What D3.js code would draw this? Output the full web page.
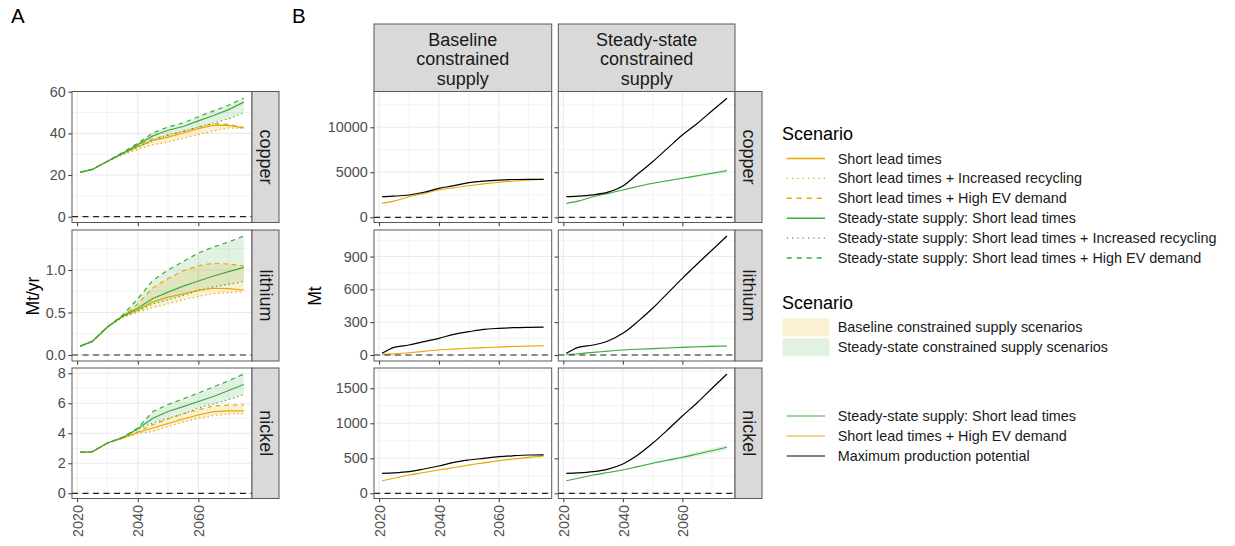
<!DOCTYPE html>
<html>
<head>
<meta charset="utf-8">
<script src="https://cdn.jsdelivr.net/npm/d3@7"></script>
<style>
  body { margin: 0; background: #fff; }
  svg { display: block; font-family: "Liberation Sans", Arial, Helvetica, sans-serif; }
</style>
</head>
<body>
<svg id="chart" width="1235" height="546"></svg>
<script>
// ---------------------------------------------------------------
// Data
// ---------------------------------------------------------------
const years = [2021, 2025, 2030, 2035, 2040, 2045, 2050, 2055, 2060, 2065, 2070, 2075];
const minerals = ["copper", "lithium", "nickel"];

// A: annual primary production (Mt/yr)
const copperShort           = [21.3, 22.7, 26.6, 30.3, 33.6, 36.6, 38.2, 40.2, 42.3, 44.0, 43.8, 42.6];
const copperRecycling       = [21.3, 22.7, 26.6, 29.8, 32.3, 34.5, 35.9, 37.6, 39.4, 41.2, 42.6, 42.3];
const copperHighEV          = [21.3, 22.7, 26.6, 30.5, 34.2, 37.4, 39.0, 41.0, 43.0, 44.8, 44.3, 42.8];
const copperSteadyShort     = [21.3, 22.7, 26.6, 30.4, 34.6, 38.8, 41.5, 43.3, 46.0, 48.6, 51.4, 55.0];
const copperSteadyRecycling = [21.3, 22.7, 26.6, 30.0, 33.4, 36.6, 39.4, 41.0, 43.0, 45.0, 47.0, 49.8];
const copperSteadyHighEV    = [21.3, 22.7, 26.6, 30.8, 35.3, 40.2, 43.1, 45.0, 48.0, 50.8, 53.5, 57.0];

const lithiumShort           = [0.105, 0.16, 0.33, 0.45, 0.53, 0.625, 0.68, 0.72, 0.76, 0.785, 0.78, 0.765];
const lithiumRecycling       = [0.105, 0.16, 0.33, 0.44, 0.50, 0.56, 0.60, 0.65, 0.69, 0.72, 0.735, 0.745];
const lithiumHighEV          = [0.105, 0.16, 0.33, 0.46, 0.60, 0.79, 0.90, 0.99, 1.05, 1.08, 1.07, 1.05];
const lithiumSteadyShort     = [0.105, 0.16, 0.33, 0.46, 0.55, 0.665, 0.74, 0.81, 0.87, 0.93, 0.98, 1.03];
const lithiumSteadyRecycling = [0.105, 0.16, 0.33, 0.45, 0.52, 0.60, 0.65, 0.70, 0.76, 0.80, 0.83, 0.865];
const lithiumSteadyHighEV    = [0.105, 0.16, 0.33, 0.47, 0.66, 0.88, 1.00, 1.10, 1.20, 1.27, 1.33, 1.40];

const nickelShort           = [2.73, 2.77, 3.35, 3.68, 4.05, 4.35, 4.65, 4.95, 5.22, 5.45, 5.50, 5.50];
const nickelRecycling       = [2.73, 2.77, 3.35, 3.66, 3.98, 4.13, 4.45, 4.75, 5.00, 5.18, 5.28, 5.31];
const nickelHighEV          = [2.73, 2.77, 3.35, 3.70, 4.10, 4.58, 4.95, 5.30, 5.57, 5.82, 5.88, 5.90];
const nickelSteadyShort     = [2.73, 2.77, 3.35, 3.72, 4.30, 5.00, 5.45, 5.78, 6.12, 6.45, 6.85, 7.25];
const nickelSteadyRecycling = [2.73, 2.77, 3.35, 3.70, 4.25, 4.68, 5.00, 5.30, 5.68, 5.95, 6.25, 6.58];
const nickelSteadyHighEV    = [2.73, 2.77, 3.35, 3.74, 4.35, 5.45, 5.92, 6.30, 6.68, 7.10, 7.50, 7.95];

// B: cumulative production (Mt)
const copperBaselineCum      = [1550, 1800, 2290, 2660, 3030, 3290, 3510, 3710, 3890, 4030, 4140, 4220];
const copperBaselineLow      = [1550, 1790, 2270, 2630, 2990, 3240, 3450, 3640, 3810, 3940, 4040, 4110];
const copperBaselineHigh     = [1550, 1810, 2300, 2680, 3060, 3330, 3560, 3770, 3960, 4110, 4230, 4310];
const copperBaselinePotential= [2290, 2350, 2480, 2780, 3220, 3510, 3850, 4030, 4140, 4200, 4220, 4220];
const copperSteadyCum        = [1550, 1800, 2290, 2660, 3030, 3420, 3780, 4060, 4330, 4610, 4890, 5180];
const copperSteadyLow        = [1550, 1790, 2270, 2630, 2990, 3370, 3710, 3970, 4220, 4470, 4720, 4970];
const copperSteadyHigh       = [1550, 1810, 2300, 2680, 3070, 3470, 3840, 4140, 4430, 4730, 5030, 5330];
const copperSteadyPotential  = [2290, 2350, 2500, 2800, 3480, 4810, 6180, 7660, 9140, 10430, 11840, 13220];

const lithiumBaselineCum      = [6, 10, 21, 33, 46, 54, 61, 67, 73, 78, 82, 84];
const lithiumBaselineLow      = [6, 10, 20, 31, 43, 50, 56, 61, 66, 70, 73, 74];
const lithiumBaselineHigh     = [6, 10, 22, 35, 49, 58, 66, 73, 80, 86, 91, 93];
const lithiumBaselinePotential= [15, 70, 91, 122, 152, 189, 213, 235, 244, 250, 253, 255];
const lithiumSteadyCum        = [6, 12, 24, 35, 46, 52, 58, 64, 70, 75, 79, 82];
const lithiumSteadyLow        = [6, 11, 23, 33, 43, 48, 53, 58, 63, 67, 70, 72];
const lithiumSteadyHigh       = [6, 13, 25, 37, 49, 56, 63, 70, 77, 83, 88, 92];
const lithiumSteadyPotential  = [15, 70, 91, 128, 198, 305, 427, 564, 701, 832, 960, 1088];

const nickelBaselineCum      = [180, 215, 261, 297, 333, 369, 404, 435, 466, 490, 514, 533];
const nickelBaselineLow      = [180, 214, 258, 292, 326, 360, 393, 422, 451, 474, 496, 513];
const nickelBaselineHigh     = [180, 216, 264, 302, 340, 378, 415, 448, 481, 506, 532, 553];
const nickelBaselinePotential= [286, 292, 309, 347, 390, 443, 476, 500, 523, 537, 547, 550];
const nickelSteadyCum        = [180, 215, 261, 297, 333, 381, 429, 472, 514, 561, 609, 657];
const nickelSteadyLow        = [180, 214, 258, 292, 326, 370, 414, 453, 490, 532, 574, 616];
const nickelSteadyHigh       = [180, 216, 264, 302, 340, 392, 444, 491, 538, 590, 644, 698];
const nickelSteadyPotential  = [286, 292, 309, 345, 419, 547, 714, 904, 1104, 1294, 1500, 1704];

// Axis breaks
const xTicks = [2020, 2040, 2060];
const xMinor = [2030, 2050, 2070];
const aTicks = { copper: [0, 20, 40, 60], lithium: [0, 0.5, 1.0], nickel: [0, 2, 4, 6, 8] };
const bTicks = { copper: [0, 5000, 10000], lithium: [0, 300, 600, 900], nickel: [0, 500, 1000, 1500] };

const scenarioLabels = [
  "Short lead times",
  "Short lead times + Increased recycling",
  "Short lead times + High EV demand",
  "Steady-state supply: Short lead times",
  "Steady-state supply: Short lead times + Increased recycling",
  "Steady-state supply: Short lead times + High EV demand"
];
const rangeLabels = ["Baseline constrained supply scenarios", "Steady-state constrained supply scenarios"];
const lineLabels = ["Steady-state supply: Short lead times", "Short lead times + High EV demand", "Maximum production potential"];
const supplyLabels = [["Baseline", "constrained", "supply"], ["Steady-state", "constrained", "supply"]];

// ---------------------------------------------------------------
// Grouped series
// ---------------------------------------------------------------
const annual = {
  copper:  [copperShort, copperRecycling, copperHighEV, copperSteadyShort, copperSteadyRecycling, copperSteadyHighEV],
  lithium: [lithiumShort, lithiumRecycling, lithiumHighEV, lithiumSteadyShort, lithiumSteadyRecycling, lithiumSteadyHighEV],
  nickel:  [nickelShort, nickelRecycling, nickelHighEV, nickelSteadyShort, nickelSteadyRecycling, nickelSteadyHighEV]
};
const cumulative = {
  copper: [
    { line: copperBaselineCum, low: copperBaselineLow, high: copperBaselineHigh, potential: copperBaselinePotential },
    { line: copperSteadyCum, low: copperSteadyLow, high: copperSteadyHigh, potential: copperSteadyPotential }
  ],
  lithium: [
    { line: lithiumBaselineCum, low: lithiumBaselineLow, high: lithiumBaselineHigh, potential: lithiumBaselinePotential },
    { line: lithiumSteadyCum, low: lithiumSteadyLow, high: lithiumSteadyHigh, potential: lithiumSteadyPotential }
  ],
  nickel: [
    { line: nickelBaselineCum, low: nickelBaselineLow, high: nickelBaselineHigh, potential: nickelBaselinePotential },
    { line: nickelSteadyCum, low: nickelSteadyLow, high: nickelSteadyHigh, potential: nickelSteadyPotential }
  ]
};

// ---------------------------------------------------------------
// Styling and layout
// ---------------------------------------------------------------
const ORANGE = "#EBA600";
const GREEN = "#3CAB3C";
const FILL_ORANGE = "#EBA600", FILL_GREEN = "#3CAB3C";
const DOTTED = "1.3,3", DASHED = "4.5,4";
const lineStyles = [
  { color: ORANGE, dash: null }, { color: ORANGE, dash: DOTTED }, { color: ORANGE, dash: DASHED },
  { color: GREEN, dash: null }, { color: GREEN, dash: DOTTED }, { color: GREEN, dash: DASHED }
];

const rows = [
  { top: 91.5, bottom: 222.5 },
  { top: 230, bottom: 361 },
  { top: 368, bottom: 498.5 }
];
const aDomain = { copper: [-2.78, 60.1], lithium: [-0.0706, 1.4706], nickel: [-0.347, 8.353] };
const bDomain = { copper: [-578, 13978], lithium: [-55, 1143], nickel: [-74, 1790] };
const xDomain = [2018.3, 2077.7];

const panelA = { left: 72, right: 252 };
const panelsB = [{ left: 374, right: 551.7 }, { left: 558.3, right: 735 }];
const stripW = 27;

const svg = d3.select("#chart");
const defs = svg.append("defs");
let clipId = 0;

const TICK_COL = "#4D4D4D", BORDER = "#595959", GRID = "#EBEBEB", STRIP_FILL = "#D9D9D9";

function minorBetween(ticks) {
  const out = [];
  for (let i = 0; i < ticks.length - 1; i++) out.push((ticks[i] + ticks[i + 1]) / 2);
  return out;
}

// Draw an empty panel with grid and axes; returns scales + clipped layer
function panel(left, right, top, bottom, yDomain, yTicks, yFormat, showY, showX) {
  const x = d3.scaleLinear().domain(xDomain).range([left, right]);
  const y = d3.scaleLinear().domain(yDomain).range([bottom, top]);
  const g = svg.append("g");
  g.append("rect").attr("x", left).attr("y", top).attr("width", right - left).attr("height", bottom - top).attr("fill", "#fff");

  const yMinor = minorBetween(yTicks).filter(v => v <= yDomain[1]);
  const extra = yTicks[yTicks.length - 1] + (yTicks[1] - yTicks[0]) / 2;
  if (extra <= yDomain[1]) yMinor.push(extra);
  g.selectAll(null).data(yMinor).join("line")
    .attr("x1", left).attr("x2", right).attr("y1", d => y(d)).attr("y2", d => y(d))
    .attr("stroke", GRID).attr("stroke-width", 0.6);
  g.selectAll(null).data(xMinor).join("line")
    .attr("y1", top).attr("y2", bottom).attr("x1", d => x(d)).attr("x2", d => x(d))
    .attr("stroke", GRID).attr("stroke-width", 0.6);
  g.selectAll(null).data(yTicks).join("line")
    .attr("x1", left).attr("x2", right).attr("y1", d => y(d)).attr("y2", d => y(d))
    .attr("stroke", GRID).attr("stroke-width", 1.1);
  g.selectAll(null).data(xTicks).join("line")
    .attr("y1", top).attr("y2", bottom).attr("x1", d => x(d)).attr("x2", d => x(d))
    .attr("stroke", GRID).attr("stroke-width", 1.1);

  const id = "clip" + (clipId++);
  defs.append("clipPath").attr("id", id).append("rect")
    .attr("x", left).attr("y", top).attr("width", right - left).attr("height", bottom - top);
  const layer = g.append("g").attr("clip-path", `url(#${id})`);

  // y axis
  const yAxis = d3.axisLeft(y).tickValues(yTicks).tickFormat(yFormat).tickSize(3.7).tickPadding(2.6);
  const ya = g.append("g").attr("transform", `translate(${left},0)`).call(yAxis);
  ya.select(".domain").remove();
  ya.selectAll(".tick line").attr("stroke", "#333");
  ya.selectAll(".tick text").attr("fill", TICK_COL).attr("font-size", 14.4)
    .attr("font-family", "Liberation Sans, Arial, sans-serif");
  if (!showY) ya.selectAll(".tick text").remove();

  // x axis
  const xAxis = d3.axisBottom(x).tickValues(xTicks).tickFormat(d3.format("d")).tickSize(3.7).tickPadding(2.6);
  const xa = g.append("g").attr("transform", `translate(0,${bottom})`).call(xAxis);
  xa.select(".domain").remove();
  xa.selectAll(".tick line").attr("stroke", "#333");
  if (showX) {
    xa.selectAll(".tick text")
      .attr("fill", TICK_COL).attr("font-size", 14.4)
      .attr("font-family", "Liberation Sans, Arial, sans-serif")
      .attr("y", null).attr("dy", "0.36em")
      .attr("text-anchor", "end")
      .attr("transform", "translate(0,6.5) rotate(-90)");
  } else {
    xa.selectAll(".tick text").remove();
  }
  return { x, y, g, layer, left, right, top, bottom };
}

function finishPanel(p) {
  // zero reference line and panel frame
  p.layer.append("line")
    .attr("x1", p.left).attr("x2", p.right).attr("y1", p.y(0)).attr("y2", p.y(0))
    .attr("stroke", "#222").attr("stroke-width", 1.2).attr("stroke-dasharray", "6,4.5");
  p.g.append("rect").attr("x", p.left).attr("y", p.top)
    .attr("width", p.right - p.left).attr("height", p.bottom - p.top)
    .attr("fill", "none").attr("stroke", BORDER).attr("stroke-width", 1);
}

function rowStrip(xLeft, top, bottom, label) {
  svg.append("rect").attr("x", xLeft).attr("y", top).attr("width", stripW).attr("height", bottom - top)
    .attr("fill", STRIP_FILL).attr("stroke", BORDER).attr("stroke-width", 1);
  svg.append("text")
    .attr("transform", `translate(${xLeft + stripW / 2},${(top + bottom) / 2}) rotate(90)`)
    .attr("text-anchor", "middle").attr("dy", "0.33em")
    .attr("font-size", 18).attr("fill", "#1A1A1A").text(label);
}

const fmtA = { copper: d3.format("d"), lithium: d3.format(".1f"), nickel: d3.format("d") };

// ---------------------------------------------------------------
// Panel A: annual production by scenario
// ---------------------------------------------------------------
minerals.forEach((m, ri) => {
  const r = rows[ri];
  const p = panel(panelA.left, panelA.right, r.top, r.bottom, aDomain[m], aTicks[m], fmtA[m], true, ri === 2);
  const series = annual[m];
  const groups = [series.slice(0, 3), series.slice(3, 6)];
  const fills = [{ c: FILL_ORANGE, o: 0.17 }, { c: FILL_GREEN, o: 0.15 }];
  groups.forEach((grp, gi) => {
    const band = years.map((yr, i) => ({ yr, lo: d3.min(grp, s => s[i]), hi: d3.max(grp, s => s[i]) }));
    p.layer.append("path").datum(band)
      .attr("d", d3.area().x(d => p.x(d.yr)).y0(d => p.y(d.lo)).y1(d => p.y(d.hi)))
      .attr("fill", fills[gi].c).attr("fill-opacity", fills[gi].o);
  });
  series.forEach((s, si) => {
    const st = lineStyles[si];
    p.layer.append("path").datum(years.map((yr, i) => ({ yr, v: s[i] })))
      .attr("d", d3.line().x(d => p.x(d.yr)).y(d => p.y(d.v)))
      .attr("fill", "none").attr("stroke", st.color).attr("stroke-width", 1.2)
      .attr("stroke-dasharray", st.dash);
  });
  finishPanel(p);
  rowStrip(panelA.right, r.top, r.bottom, m);
});

// ---------------------------------------------------------------
// Panel B: cumulative production vs. maximum production potential
// ---------------------------------------------------------------
panelsB.forEach((pb, ci) => {
  const top = 24, bottom = 91.5;
  svg.append("rect").attr("x", pb.left).attr("y", top).attr("width", pb.right - pb.left).attr("height", bottom - top)
    .attr("fill", STRIP_FILL).attr("stroke", BORDER).attr("stroke-width", 1);
  const cx = (pb.left + pb.right) / 2;
  supplyLabels[ci].forEach((t, li) => {
    svg.append("text").attr("x", cx).attr("y", 45.5 + li * 19.5).attr("text-anchor", "middle")
      .attr("font-size", 18).attr("fill", "#1A1A1A").text(t);
  });
});

minerals.forEach((m, ri) => {
  const r = rows[ri];
  panelsB.forEach((pb, ci) => {
    const p = panel(pb.left, pb.right, r.top, r.bottom, bDomain[m], bTicks[m], d3.format("d"), ci === 0, ri === 2);
    const d = cumulative[m][ci];
    const col = ci === 0 ? ORANGE : GREEN;
    const curve = d3.curveMonotoneX;
    const pts = years.map((yr, i) => ({ yr, v: d.line[i], lo: d.low[i], hi: d.high[i], pot: d.potential[i] }));
    p.layer.append("path").datum(pts)
      .attr("d", d3.area().curve(curve).x(q => p.x(q.yr)).y0(q => p.y(q.lo)).y1(q => p.y(q.hi)))
      .attr("fill", col).attr("fill-opacity", 0.15);
    p.layer.append("path").datum(pts)
      .attr("d", d3.line().curve(curve).x(q => p.x(q.yr)).y(q => p.y(q.v)))
      .attr("fill", "none").attr("stroke", col).attr("stroke-width", 1.1);
    p.layer.append("path").datum(pts)
      .attr("d", d3.line().curve(curve).x(q => p.x(q.yr)).y(q => p.y(q.pot)))
      .attr("fill", "none").attr("stroke", "#000").attr("stroke-width", 1.2);
    finishPanel(p);
  });
  rowStrip(panelsB[1].right, r.top, r.bottom, m);
});

// ---------------------------------------------------------------
// Titles
// ---------------------------------------------------------------
svg.append("text").attr("x", 11).attr("y", 22.5).attr("font-size", 20.5).attr("fill", "#000").text("A");
svg.append("text").attr("x", 292).attr("y", 22.5).attr("font-size", 20.5).attr("fill", "#000").text("B");
svg.append("text").attr("transform", "translate(39,296) rotate(-90)").attr("text-anchor", "middle")
  .attr("font-size", 17.5).attr("fill", "#000").text("Mt/yr");
svg.append("text").attr("transform", "translate(321,296) rotate(-90)").attr("text-anchor", "middle")
  .attr("font-size", 17.5).attr("fill", "#000").text("Mt");

// ---------------------------------------------------------------
// Legends
// ---------------------------------------------------------------
const lg = svg.append("g");
const keyX1 = 786.7, keyX2 = 825, textX = 837.7;

lg.append("text").attr("x", 782).attr("y", 140).attr("font-size", 18).attr("fill", "#000").text("Scenario");
scenarioLabels.forEach((lab, i) => {
  const yy = 158.5 + i * 19.9;
  const st = lineStyles[i];
  lg.append("line").attr("x1", keyX1).attr("x2", keyX2).attr("y1", yy).attr("y2", yy)
    .attr("stroke", st.color).attr("stroke-width", 1.4)
    .attr("stroke-dasharray", st.dash === DOTTED ? "1.3,4" : st.dash === DASHED ? "5,5" : null);
  lg.append("text").attr("x", textX).attr("y", yy).attr("dy", "0.35em")
    .attr("font-size", 14.4).attr("fill", "#1A1A1A").text(lab);
});

lg.append("text").attr("x", 782).attr("y", 309).attr("font-size", 18).attr("fill", "#000").text("Scenario");
const rangeFills = [{ c: FILL_ORANGE, o: 0.17 }, { c: FILL_GREEN, o: 0.15 }];
rangeLabels.forEach((lab, i) => {
  const y0 = 318.3 + i * 20;
  lg.append("rect").attr("x", 782.5).attr("y", y0).attr("width", 47).attr("height", 18)
    .attr("fill", rangeFills[i].c).attr("fill-opacity", rangeFills[i].o);
  lg.append("text").attr("x", textX).attr("y", y0 + 9).attr("dy", "0.35em")
    .attr("font-size", 14.4).attr("fill", "#1A1A1A").text(lab);
});

const lineColors = [GREEN, ORANGE, "#000"];
lineLabels.forEach((lab, i) => {
  const yy = 416 + i * 20;
  lg.append("line").attr("x1", keyX1).attr("x2", keyX2).attr("y1", yy).attr("y2", yy)
    .attr("stroke", lineColors[i]).attr("stroke-width", 1.1);
  lg.append("text").attr("x", textX).attr("y", yy).attr("dy", "0.35em")
    .attr("font-size", 14.4).attr("fill", "#1A1A1A").text(lab);
});
</script>
</body>
</html>
